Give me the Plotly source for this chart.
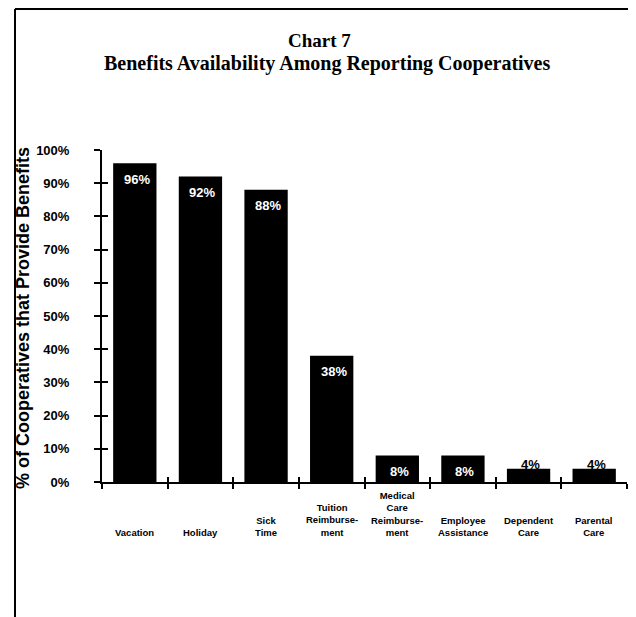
import plotly.graph_objects as go

categories = ["Vacation", "Holiday", "Sick Time", "Tuition Reimbursement",
              "Medical Care Reimbursement", "Employee Assistance",
              "Dependent Care", "Parental Care"]
tick_labels = ["Vacation", "Holiday", "Sick<br>Time", "Tuition<br>Reimburse-<br>ment",
               "Medical<br>Care<br>Reimburse-<br>ment", "Employee<br>Assistance",
               "Dependent<br>Care", "Parental<br>Care"]
values = [96, 92, 88, 38, 8, 8, 4, 4]
value_labels = ["96%", "92%", "88%", "38%", "8%", "8%", "4%", "4%"]
title_line1 = "Chart 7"
title_line2 = "Benefits Availability Among Reporting Cooperatives"
y_title = "% of Cooperatives that Provide Benefits"

W, H = 636, 617
OFF = 8  # page body margin
# target screen pixels of plot area
SX0, SX1, SY0, SY1 = 102, 627, 150, 482
L = SX0 - OFF
R = W - (SX1 - OFF)
T = SY0 - OFF
B = H - (SY1 - OFF)
pw, ph = W - L - R, H - T - B

def px_x(sx):
    return (sx - SX0) / pw

def px_y(sy):
    return (SY1 - sy) / ph

sans = "Liberation Sans, Arial, sans-serif"
serif = "Liberation Serif, Times New Roman, serif"

fig = go.Figure()
fig.add_trace(go.Bar(x=categories, y=values, width=0.66,
                     marker=dict(color="black", line=dict(width=0)),
                     hoverinfo="x+y", showlegend=False))
# invisible trace to drive the overlay axes (inside tick halves)
fig.add_trace(go.Scatter(x=categories, y=values, xaxis="x2", yaxis="y2",
                         mode="markers", marker=dict(opacity=0),
                         hoverinfo="skip", showlegend=False))

annotations = []
for c, v, t in zip(categories, values, value_labels):
    inside = v >= 8
    annotations.append(dict(
        x=c, y=v, xref="x", yref="y", text="<b>" + t + "</b>", showarrow=False,
        xshift=2, yshift=-16 if inside else 4, yanchor="middle",
        font=dict(family=sans, size=13, color="white" if inside else "black")))
for c, t in zip(categories, tick_labels):
    annotations.append(dict(
        x=c, y=px_y(540), xref="x", yref="paper", text="<b>" + t + "</b>",
        showarrow=False, yanchor="bottom", xanchor="center", align="center",
        font=dict(family=sans, size=9.5, color="black")))
annotations.append(dict(
    x=px_x(319), y=px_y(41), xref="paper", yref="paper",
    text="<b>" + title_line1 + "</b>", showarrow=False,
    xanchor="center", yanchor="middle",
    font=dict(family=serif, size=19, color="black")))
annotations.append(dict(
    x=px_x(327), y=px_y(63), xref="paper", yref="paper",
    text="<b>" + title_line2 + "</b>", showarrow=False,
    xanchor="center", yanchor="middle",
    font=dict(family=serif, size=20, color="black")))
annotations.append(dict(
    x=px_x(23), y=px_y(318), xref="paper", yref="paper",
    text="<b>" + y_title + "</b>", showarrow=False, textangle=-90,
    xanchor="center", yanchor="middle",
    font=dict(family=sans, size=18, color="black")))

fig.update_layout(
    width=W, height=H,
    margin=dict(l=L, r=R, t=T, b=B, autoexpand=False),
    paper_bgcolor="white", plot_bgcolor="white",
    xaxis=dict(range=[-0.5, 7.5], showline=True, linecolor="black", linewidth=2,
               ticks="outside", ticklen=5, tickwidth=1.5, tickcolor="black",
               tickson="boundaries", showticklabels=False, showgrid=False,
               zeroline=False, fixedrange=True),
    yaxis=dict(range=[0, 100], dtick=10, ticksuffix="%", showline=True,
               linecolor="black", linewidth=2, ticks="outside", ticklen=6,
               tickwidth=1.5, tickcolor="black", showgrid=False, zeroline=False,
               ticklabelstandoff=22,
               tickfont=dict(family=sans, size=13, color="black", weight="bold")),
    xaxis2=dict(range=[-0.5, 7.5], overlaying="x", anchor="y2",
                ticks="inside", ticklen=5, tickwidth=1.5, tickcolor="black",
                tickson="boundaries", showticklabels=False, showgrid=False,
                zeroline=False, showline=False),
    yaxis2=dict(range=[0, 100], dtick=10, overlaying="y", anchor="x2",
                ticks="inside", ticklen=6, tickwidth=1.5, tickcolor="black",
                showticklabels=False, showgrid=False, zeroline=False,
                showline=False),
    annotations=annotations,
    shapes=[
        dict(type="line", xref="paper", yref="paper", x0=px_x(15), x1=px_x(15),
             y0=px_y(9), y1=px_y(630), line=dict(color="black", width=2)),
        dict(type="line", xref="paper", yref="paper", x0=px_x(15), x1=px_x(650),
             y0=px_y(9), y1=px_y(9), line=dict(color="black", width=2)),
    ],
)

fig.write_html("out.html")
